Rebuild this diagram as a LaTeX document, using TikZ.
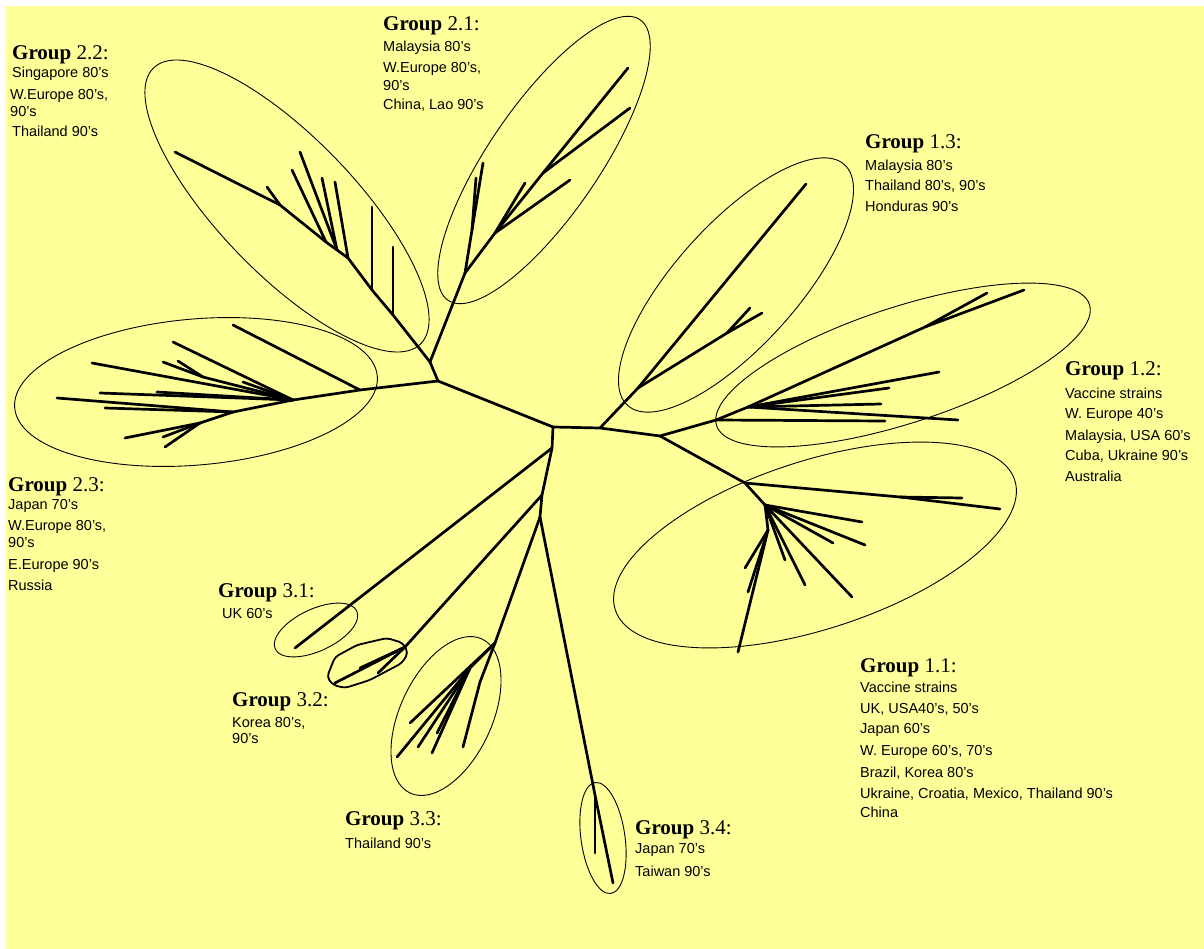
\documentclass[tikz,border=0pt]{standalone}
\usepackage{fontspec}
\setmainfont{Liberation Sans}
\newfontfamily\titlefont{Liberation Serif}
\definecolor{bgyellow}{RGB}{255,255,153}
\begin{document}
\begin{tikzpicture}[x=1pt,y=-1pt,
  br/.style={line width=2.7pt, line cap=round, line join=round},
  ell/.style={line width=0.9pt},
  lbl/.style={anchor=base west, inner sep=0pt, font=\fontsize{14.5}{16}\selectfont},
  ttl/.style={anchor=base west, inner sep=0pt, font=\titlefont\fontsize{21}{24}\selectfont}]
\path[use as bounding box] (0,0) rectangle (1204,949);
\fill[white] (0,0) rectangle (1204,949);
\fill[bgyellow] (5,6) rectangle (1204,949);

% ---------- ellipses ----------
\draw[ell, rotate around={-46:(287,206)}] (287,206) ellipse [x radius=192pt, y radius=68pt];
\draw[ell, rotate around={55.6:(544,160)}] (544,160) ellipse [x radius=170pt, y radius=55pt];
\draw[ell, rotate around={48:(736,285)}] (736,285) ellipse [x radius=162pt, y radius=61pt];
\draw[ell, rotate around={18:(903,365)}] (903,365) ellipse [x radius=196pt, y radius=58pt];
\draw[ell, rotate around={18:(815,545)}] (815,545) ellipse [x radius=210pt, y radius=84pt];
\draw[ell, rotate around={5:(196,392)}] (196,392) ellipse [x radius=182pt, y radius=73pt];
\draw[ell, rotate around={25:(316,630)}] (316,630) ellipse [x radius=45pt, y radius=21pt];
\draw[ell, rotate around={65:(446,716)}] (446,716) ellipse [x radius=85pt, y radius=46pt];
\draw[ell, rotate around={98:(603,838)}] (603,838) ellipse [x radius=56pt, y radius=22pt];
\draw[line width=1.8pt, rounded corners=4pt] (327,677) -- (335,657) -- (357,645) -- (387,638) -- (403,643) -- (408,653) -- (402,663) -- (370,680) -- (345,688) -- (333,685) -- cycle;

% ---------- coordinates ----------
\coordinate (A) at (553,427);
\coordinate (B) at (600,428);
\coordinate (J1) at (660,436);
\coordinate (J2) at (438,381);
\coordinate (J22) at (430,362);
\coordinate (J3a) at (552,448);
\coordinate (J3b) at (542,495);
\coordinate (J3c) at (540,517);
% group 2.3
\coordinate (t23j) at (360,390);
\coordinate (t23h) at (293,400);
\coordinate (t23m) at (203,377);
\coordinate (t23k) at (233,412);
\coordinate (t23n) at (200,423);
\coordinate (l23a) at (233,325);
\coordinate (l23b) at (173,342);
\coordinate (l23c) at (163,362);
\coordinate (l23d) at (178,361);
\coordinate (l23e) at (92,363);
\coordinate (l23f) at (243,382);
\coordinate (l23g) at (157,392);
\coordinate (l23h) at (100,393);
\coordinate (l23i) at (57,398);
\coordinate (l23j) at (105,408);
\coordinate (l23k) at (125,438);
\coordinate (l23l) at (163,437);
\coordinate (l23m) at (165,447);
% group 2.2
\coordinate (t22a) at (393,315);
\coordinate (t22b) at (372,290);
\coordinate (t22c) at (348,258);
\coordinate (t22d) at (337,250);
\coordinate (t22e) at (326,242);
\coordinate (t22f) at (280,205);
\coordinate (l22tip) at (175,152);
\coordinate (l22a) at (393,247);
\coordinate (l22b) at (372,207);
\coordinate (l22c) at (335,182);
\coordinate (l22d) at (322,178);
\coordinate (l22e) at (300,152);
\coordinate (l22f) at (292,170);
\coordinate (l22g) at (267,187);
% group 2.1
\coordinate (t21a) at (465,273);
\coordinate (t21b) at (495,233);
\coordinate (t21c) at (543,173);
\coordinate (t21s) at (472,230);
\coordinate (l21a) at (483,163);
\coordinate (l21s) at (476,178);
\coordinate (l21b) at (570,180);
\coordinate (l21c) at (525,183);
\coordinate (l21d) at (628,68);
\coordinate (l21e) at (630,108);
% group 1.3
\coordinate (t13b) at (638,388);
\coordinate (t13c) at (727,333);
\coordinate (l13a) at (806,184);
\coordinate (l13b) at (762,313);
\coordinate (l13c) at (750,308);
% group 1.2
\coordinate (t12a) at (716,420);
\coordinate (t12b) at (748,407);
\coordinate (t12c) at (925,327);
\coordinate (l12a) at (1024,290);
\coordinate (l12b) at (987,293);
\coordinate (l12c) at (939,372);
\coordinate (l12d) at (889,388);
\coordinate (l12e) at (881,404);
\coordinate (l12f) at (958,420);
\coordinate (l12g) at (885,421);
% group 1.1
\coordinate (t11a) at (745,483);
\coordinate (t11d) at (900,497);
\coordinate (t11b) at (765,505);
\coordinate (t11c) at (768,530);
\coordinate (l11a) at (1000,509);
\coordinate (l11b) at (962,498);
\coordinate (l11c) at (862,522);
\coordinate (l11d) at (865,545);
\coordinate (l11e) at (833,543);
\coordinate (l11f) at (852,597);
\coordinate (l11g) at (805,585);
\coordinate (l11h) at (785,560);
\coordinate (l11i) at (738,652);
\coordinate (l11j) at (745,568);
\coordinate (l11k) at (748,592);
% group 3.x
\coordinate (l31) at (295,648);
\coordinate (t32a) at (405,647);
\coordinate (l32a) at (335,683);
\coordinate (l32b) at (378,673);
\coordinate (l32c) at (360,668);
\coordinate (t33a) at (495,643);
\coordinate (t33b) at (470,668);
\coordinate (t33c) at (480,682);
\coordinate (l33a) at (410,723);
\coordinate (l33b) at (397,757);
\coordinate (l33c) at (418,747);
\coordinate (l33d) at (432,753);
\coordinate (l33e) at (437,733);
\coordinate (l33f) at (463,747);
\coordinate (t34a) at (595,795);
\coordinate (l34a) at (613,883);
\coordinate (l34b) at (595,853);

% ---------- branches ----------
\draw[br] (J2) -- (A) -- (B) -- (J1);
\draw[br] (J22) -- (J2);
\draw[br] (A) -- (J3a) -- (J3b) -- (J3c);
% 2.3
\draw[br] (J2) -- (t23j) -- (t23h);
\draw[br] (t23j) -- (l23a);
\draw[br] (t23h) -- (l23b);
\draw[br] (t23h) -- (t23m) -- (l23c);
\draw[br] (t23m) -- (l23d);
\draw[br] (t23h) -- (l23e);
\draw[br] (t23h) -- (l23f);
\draw[br] (t23h) -- (l23g);
\draw[br] (t23h) -- (l23h);
\draw[br] (t23h) -- (t23k) -- (l23i);
\draw[br] (t23k) -- (l23j);
\draw[br] (t23k) -- (t23n) -- (l23k);
\draw[br] (t23n) -- (l23l);
\draw[br] (t23n) -- (l23m);
% 2.2
\draw[br] (J22) -- (t22a) -- (t22b) -- (t22c) -- (t22d) -- (t22e) -- (t22f) -- (l22tip);
\draw[br] (t22a) -- (l22a);
\draw[br] (t22b) -- (l22b);
\draw[br] (t22c) -- (l22c);
\draw[br] (t22d) -- (l22d);
\draw[br] (t22d) -- (l22e);
\draw[br] (t22e) -- (l22f);
\draw[br] (t22f) -- (l22g);
% 2.1
\draw[br] (J22) -- (t21a) -- (t21b) -- (t21c) -- (l21d);
\draw[br] (t21a) -- (t21s) -- (l21a);
\draw[br] (t21s) -- (l21s);
\draw[br] (t21b) -- (l21b);
\draw[br] (t21b) -- (l21c);
\draw[br] (t21c) -- (l21e);
% 1.3
\draw[br] (B) -- (t13b) -- (l13a);
\draw[br] (t13b) -- (t13c) -- (l13b);
\draw[br] (t13c) -- (l13c);
% 1.2
\draw[br] (J1) -- (t12a) -- (t12b) -- (t12c) -- (l12a);
\draw[br] (t12c) -- (l12b);
\draw[br] (t12b) -- (l12c);
\draw[br] (t12b) -- (l12d);
\draw[br] (t12b) -- (l12e);
\draw[br] (t12b) -- (l12f);
\draw[br] (t12a) -- (l12g);
% 1.1
\draw[br] (J1) -- (t11a) -- (t11d) -- (l11a);
\draw[br] (t11d) -- (l11b);
\draw[br] (t11a) -- (t11b);
\draw[br] (t11b) -- (l11c);
\draw[br] (t11b) -- (l11d);
\draw[br] (t11b) -- (l11e);
\draw[br] (t11b) -- (l11f);
\draw[br] (t11b) -- (l11g);
\draw[br] (t11b) -- (l11h);
\draw[br] (t11b) -- (t11c) -- (l11i);
\draw[br] (t11c) -- (l11j);
\draw[br] (t11c) -- (l11k);
% 3.1 - 3.4
\draw[br] (J3a) -- (l31);
\draw[br] (J3b) -- (t32a) -- (l32a);
\draw[br] (t32a) -- (l32b);
\draw[br] (t32a) -- (l32c);
\draw[br] (J3c) -- (t33a) -- (l33a);
\draw[br] (t33a) -- (t33b) -- (l33b);
\draw[br] (t33b) -- (l33c);
\draw[br] (t33b) -- (l33d);
\draw[br] (t33b) -- (l33e);
\draw[br] (t33a) -- (t33c) -- (l33f);
\draw[br] (J3c) -- (t34a) -- (l34a);
\draw[br] (t34a) -- (l34b);

% ---------- labels ----------
\node[ttl] (n22) at (12,60) {\textbf{Group} 2.2:};
\node[lbl] (n22a) at (12,78) {Singapore 80's};
\node[lbl] (n22b) at (10,100) {W.Europe 80's,};
\node[lbl] (n22c) at (10,117) {90's};
\node[lbl] (n22d) at (12,137) {Thailand 90's};

\node[ttl] (n21) at (383,31) {\textbf{Group} 2.1:};
\node[lbl] (n21a) at (383,52) {Malaysia 80's};
\node[lbl] (n21b) at (383,73) {W.Europe 80's,};
\node[lbl] (n21c) at (383,91) {90's};
\node[lbl] (n21d) at (383,110) {China, Lao 90's};

\node[ttl] (n13) at (865,149) {\textbf{Group} 1.3:};
\node[lbl] (n13a) at (865,171) {Malaysia 80's};
\node[lbl] (n13b) at (865,191) {Thailand 80's, 90's};
\node[lbl] (n13c) at (865,212) {Honduras 90's};

\node[ttl] (n12) at (1065,375) {\textbf{Group} 1.2:};
\node[lbl] (n12a) at (1065,398) {Vaccine strains};
\node[lbl] (n12b) at (1065,418) {W. Europe 40's};
\node[lbl] (n12c) at (1065,440) {Malaysia, USA 60's};
\node[lbl] (n12d) at (1065,460) {Cuba, Ukraine 90's};
\node[lbl] (n12e) at (1065,481) {Australia};

\node[ttl] (n11) at (860,672) {\textbf{Group} 1.1:};
\node[lbl] (n11a) at (860,692) {Vaccine strains};
\node[lbl] (n11b) at (860,713) {UK, USA40's, 50's};
\node[lbl] (n11c) at (860,733) {Japan 60's};
\node[lbl] (n11d) at (860,755) {W. Europe 60's, 70's};
\node[lbl] (n11e) at (860,777) {Brazil, Korea 80's};
\node[lbl] (n11f) at (860,798) {Ukraine, Croatia, Mexico, Thailand 90's};
\node[lbl] (n11g) at (860,817) {China};

\node[ttl] (n23) at (8,491) {\textbf{Group} 2.3:};
\node[lbl] (n23a) at (8,509) {Japan 70's};
\node[lbl] (n23b) at (8,530) {W.Europe 80's,};
\node[lbl] (n23c) at (8,547) {90's};
\node[lbl] (n23d) at (8,569) {E.Europe 90's};
\node[lbl] (n23e) at (8,590) {Russia};

\node[ttl] (n31) at (218,597) {\textbf{Group} 3.1:};
\node[lbl] (n31a) at (222,618) {UK 60's};

\node[ttl] (n32) at (232,706) {\textbf{Group} 3.2:};
\node[lbl] (n32a) at (232,727) {Korea 80's,};
\node[lbl] (n32b) at (232,743) {90's};

\node[ttl] (n33) at (345,825) {\textbf{Group} 3.3:};
\node[lbl] (n33a) at (345,848) {Thailand 90's};

\node[ttl] (n34) at (635,834) {\textbf{Group} 3.4:};
\node[lbl] (n34a) at (635,853) {Japan 70's};
\node[lbl] (n34b) at (635,876) {Taiwan 90's};
\end{tikzpicture}
\end{document}
